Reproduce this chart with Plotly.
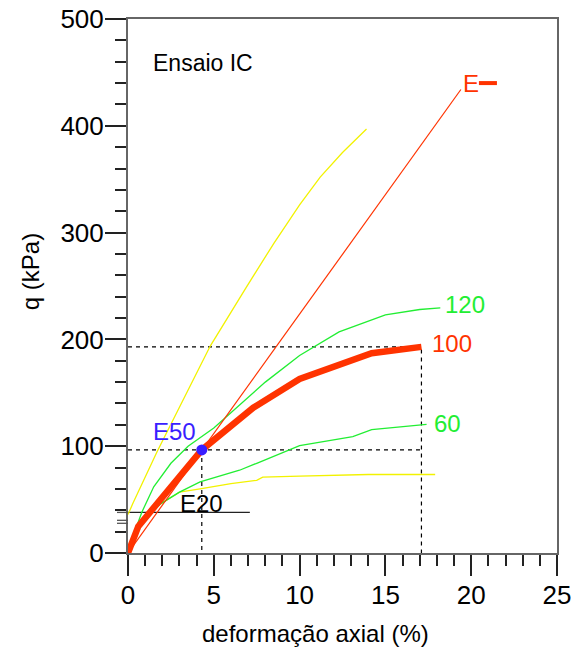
import plotly.graph_objects as go

# Ensaio IC: tensão desviatória q (kPa) vs deformação axial (%)
eps_100 = [0, 0.6, 4.3, 7.3, 10.0, 14.2, 17.1]
q_100 = [0, 25, 96.5, 136, 163, 187, 193]

eps_120 = [0, 0.3, 0.8, 1.5, 2.5, 3.5, 5.0, 6.4, 8.0, 10.0, 12.3, 15.0, 17.0, 18.2]
q_120 = [0, 16, 38, 62, 84, 100, 117, 137, 160, 185, 207, 223, 228, 229.5]

eps_60 = [0, 0.5, 1.9, 3.0, 4.2, 6.5, 7.5, 10.0, 13.1, 14.2, 17.4]
q_60 = [0, 26, 46, 57, 66.5, 77.5, 84, 100.5, 109, 115.5, 120.5]

eps_y_low = [0, 0.5, 1.28, 3.0, 4.2, 6.0, 7.5, 7.85, 10.0, 12.0, 14.0, 17.9]
q_y_low = [0, 22, 40, 57, 60, 65, 68, 71, 72, 73, 73.5, 73.5]

eps_y_high = [0, 0.3, 1.7, 3.2, 4.8, 6.9, 8.5, 10.0, 11.2, 12.5, 13.9]
q_y_high = [36, 47, 95, 143, 194, 249, 290, 326, 352, 375, 397]

# reta do módulo E
eps_E = [0, 19.4]
q_E = [0, 434]

# ponto E50 e reta E20
eps_E50 = [4.3]
q_E50 = [96.5]
eps_E20 = [0, 7.1]
q_E20 = [38, 38]

RED = "#ff3300"
GREEN = "#22ee33"
YELLOW = "#f2f200"
BLUE = "#3a1eff"
FONT = "Liberation Sans, Arial, sans-serif"

q_max = max(q_100)
eps_f = eps_100[-1]
q_half = q_max / 2

fig = go.Figure()

# linhas tracejadas de referência
dash = dict(color="black", width=1.2, dash="4px,4px")
fig.add_trace(go.Scatter(x=[0, eps_f, eps_f], y=[q_max, q_max, 0], mode="lines", line=dash))
fig.add_trace(go.Scatter(x=[0, eps_f], y=[q_half, q_half], mode="lines", line=dash))
fig.add_trace(go.Scatter(x=[eps_E50[0], eps_E50[0]], y=[q_E50[0], 0], mode="lines", line=dash))

# E20
fig.add_trace(go.Scatter(x=eps_E20, y=q_E20, mode="lines", line=dict(color="#222222", width=1.3)))

# curvas
fig.add_trace(go.Scatter(x=eps_y_high, y=q_y_high, mode="lines", line=dict(color=YELLOW, width=1.3)))
fig.add_trace(go.Scatter(x=eps_y_low, y=q_y_low, mode="lines", line=dict(color=YELLOW, width=1.3)))
fig.add_trace(go.Scatter(x=eps_60, y=q_60, mode="lines", line=dict(color=GREEN, width=1.3)))
fig.add_trace(go.Scatter(x=eps_120, y=q_120, mode="lines", line=dict(color=GREEN, width=1.3)))
fig.add_trace(go.Scatter(x=eps_E, y=q_E, mode="lines", line=dict(color=RED, width=1.2)))
fig.add_trace(go.Scatter(x=eps_100, y=q_100, mode="lines", line=dict(color=RED, width=6.5)))

# marcador de legenda do E
fig.add_trace(go.Scatter(x=[20.45, 21.5], y=[440, 440], mode="lines", line=dict(color=RED, width=4)))

# ponto E50
fig.add_trace(go.Scatter(x=eps_E50, y=q_E50, mode="markers",
                         marker=dict(color=BLUE, size=11, line=dict(width=0))))

def label(x, y, text, color, size=24):
    fig.add_annotation(x=x, y=y, text=text, showarrow=False, xanchor="left", yanchor="middle",
                       font=dict(family=FONT, size=size, color=color))

label(1.34, 459, "Ensaio IC", "black", 23)
label(19.43, 440, "E", RED)
label(18.33, 233, "120", GREEN)
label(17.57, 196, "100", RED)
label(17.74, 121, "60", GREEN)
label(1.34, 114, "E50", BLUE)
label(2.91, 46.5, "E20", "black")

# títulos dos eixos
fig.add_annotation(x=(315 - 128) / 429, y=-(633 - 552.7) / 533.7, xref="paper", yref="paper",
                   text="deformação axial (%)", showarrow=False, xanchor="center", yanchor="middle",
                   font=dict(family=FONT, size=24, color="black"))
fig.add_annotation(x=-(128 - 30) / 429, y=(552.7 - 272) / 533.7, xref="paper", yref="paper",
                   text="q (kPa)", showarrow=False, textangle=-90, xanchor="center", yanchor="middle",
                   font=dict(family=FONT, size=24, color="black"))

# traços curtos extras junto ao eixo q
for qv in [38, 30.6, 27.8]:
    fig.add_shape(type="line", xref="paper", yref="y", x0=-11 / 429, x1=0, y0=qv, y1=qv,
                  line=dict(color="#555555", width=1.3))

axis_common = dict(
    showgrid=False, zeroline=False, showline=True, linecolor="#666666", linewidth=2,
    mirror=True, ticks="outside", ticklen=21, tickwidth=1.5, tickcolor="#222222",
    tickfont=dict(family=FONT, size=26, color="black"), automargin=False,
)

fig.update_xaxes(range=[0, 25], tickvals=[0, 5, 10, 15, 20, 25], ticklabelstandoff=-3,
                 minor=dict(dtick=1, tick0=0, ticks="outside", ticklen=11, tickwidth=1.5,
                            tickcolor="#222222", showgrid=False),
                 **axis_common)
fig.update_yaxes(range=[0, 500], tickvals=[0, 100, 200, 300, 400, 500], ticklabelstandoff=-4,
                 minor=dict(dtick=20, tick0=0, ticks="outside", ticklen=11, tickwidth=1.5,
                            tickcolor="#222222", showgrid=False),
                 **axis_common)

fig.update_layout(
    width=579, height=648,
    margin=dict(l=128, r=22, t=19, b=95, autoexpand=False),
    paper_bgcolor="white", plot_bgcolor="white",
    showlegend=False,
)

fig.write_html("out.html")
